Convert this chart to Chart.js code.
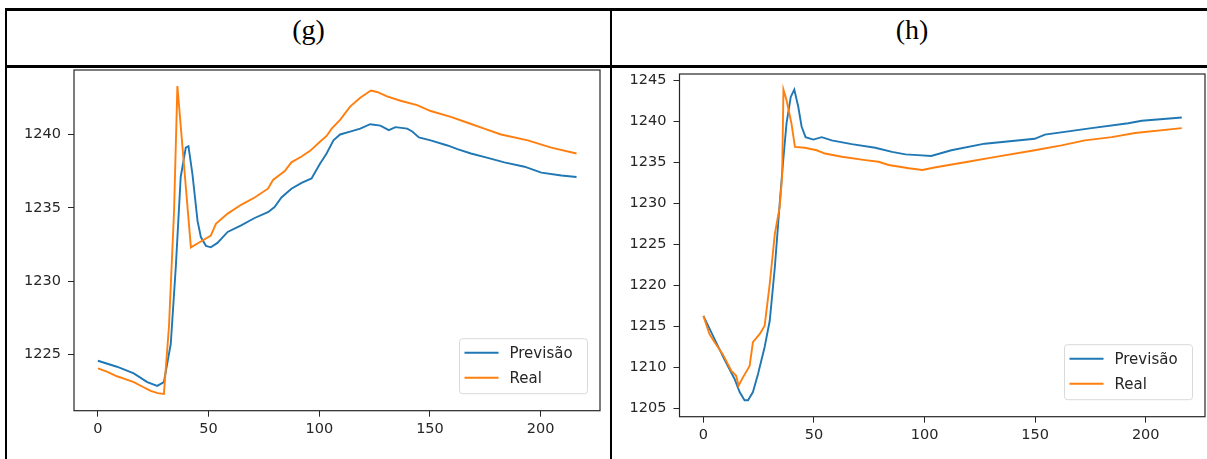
<!DOCTYPE html>
<html lang="pt">
<head>
    <meta charset="UTF-8">
    <title>Previsão x Real</title>
    <script src="https://cdn.jsdelivr.net/npm/chart.js"></script>
    <style>
        html, body { margin: 0; padding: 0; background: #fff; }
        body { width: 1207px; height: 459px; position: relative; overflow: hidden; }
        .linha { position: absolute; background: #000; }
        .titulo {
            position: absolute; top: 14px;
            font-family: "Liberation Serif", "Times New Roman", serif;
            font-size: 28px; text-align: center; line-height: normal; color: #000;
        }
        canvas { position: absolute; }
    </style>
</head>
<body>
    <!-- bordas da tabela -->
    <div class="linha" style="left:5px; top:8px; width:1215px; height:3px;"></div>
    <div class="linha" style="left:5px; top:65px; width:1215px; height:3px;"></div>
    <div class="linha" style="left:5px; top:8px; width:2px; height:460px;"></div>
    <div class="linha" style="left:610px; top:8px; width:2px; height:460px;"></div>

    <div class="titulo" style="left:7px; width:603px;">(g)</div>
    <div class="titulo" style="left:612px; width:600px;">(h)</div>

    <canvas id="graficoG" width="610" height="409" style="left:0; top:50px;"></canvas>
    <canvas id="graficoH" width="594" height="409" style="left:613px; top:50px;"></canvas>

<script>
    // Dados (g)
    const gPrevX = [0, 8.6, 16.2, 22.3, 26.8, 29.8, 32.9, 35.2, 37.4, 39.7, 40.9, 42.7, 45, 46.5, 48.8, 51, 54, 58.6, 64.7, 70.8, 76.8, 79.8, 82.9, 87.4, 92, 96.5, 100.3, 103.3, 106.4, 109.4, 113.9, 118.5, 123, 127.6, 131.4, 134.4, 139.7, 142, 145, 150.3, 157.9, 162.4, 168.5, 176.1, 183.6, 192.7, 200.3, 209.4, 216.2];
    const gPrevY = [1224.56, 1224.15, 1223.7, 1223.1, 1222.84, 1223.1, 1225.7, 1231.0, 1237.1, 1239.1, 1239.2, 1237.3, 1234.1, 1233.0, 1232.4, 1232.3, 1232.6, 1233.35, 1233.8, 1234.3, 1234.7, 1235.05, 1235.7, 1236.3, 1236.7, 1237.0, 1238.0, 1238.7, 1239.6, 1240.0, 1240.2, 1240.4, 1240.7, 1240.6, 1240.3, 1240.5, 1240.4, 1240.2, 1239.8, 1239.6, 1239.25, 1239.0, 1238.7, 1238.4, 1238.1, 1237.8, 1237.4, 1237.2, 1237.1];
    const gRealX = [0, 4.3, 8.6, 12.4, 16.2, 20, 23.8, 27, 29.8, 32.1, 34.4, 35.9, 42, 46.5, 51, 53.3, 58.6, 64.7, 70.8, 76.8, 79.1, 84.4, 87.4, 92, 96, 100.3, 103.3, 105.6, 109.4, 113.9, 118.5, 123.3, 126.1, 130.6, 136.7, 144.2, 150.3, 159.4, 167, 174.5, 182.1, 194.2, 204.8, 216.2];
    const gRealY = [1224.04, 1223.8, 1223.5, 1223.3, 1223.1, 1222.8, 1222.5, 1222.35, 1222.3, 1226.9, 1234.8, 1243.3, 1232.3, 1232.7, 1233.1, 1233.9, 1234.6, 1235.2, 1235.7, 1236.3, 1236.9, 1237.5, 1238.1, 1238.5, 1238.9, 1239.5, 1239.9, 1240.4, 1241.0, 1241.9, 1242.5, 1243.0, 1242.9, 1242.6, 1242.3, 1242.0, 1241.6, 1241.2, 1240.8, 1240.4, 1240.0, 1239.6, 1239.1, 1238.7];
    const gTicksX = [0, 50, 100, 150, 200];
    const gTicksY = [1225, 1230, 1235, 1240];

    // Dados (h)
    const hPrevX = [0, 5, 9.5, 14.1, 16.4, 18.6, 20.2, 22.4, 24.7, 27.7, 30, 32.3, 34.5, 36.1, 37.6, 39.5, 41.1, 42.9, 44.4, 46.2, 49.7, 53.5, 58, 67.1, 77.7, 85.3, 91.4, 97, 103, 112.1, 127.2, 149.8, 154.4, 165, 175.5, 192.1, 198.2, 216.3];
    const hPrevY = [1216.3, 1213.5, 1211.0, 1208.6, 1207.0, 1206.0, 1206.0, 1207.0, 1209.2, 1212.5, 1215.7, 1222.2, 1230.0, 1235.3, 1239.8, 1243.0, 1243.9, 1241.8, 1239.4, 1238.1, 1237.8, 1238.1, 1237.7, 1237.25, 1236.8, 1236.3, 1236.0, 1235.9, 1235.8, 1236.5, 1237.3, 1237.9, 1238.4, 1238.8, 1239.2, 1239.8, 1240.1, 1240.5];
    const hRealX = [0, 2.7, 5, 8.8, 12.6, 14.8, 15.9, 17.9, 20.9, 22.4, 25.5, 27.7, 30, 32.3, 34.5, 35.6, 36.2, 37.6, 39.8, 41.4, 45.9, 51.2, 55, 62.6, 73.2, 79.2, 83.8, 92.9, 99, 104.5, 119.6, 130.2, 149.8, 161.9, 172.5, 184.6, 195.2, 216.3];
    const hRealY = [1216.3, 1214.1, 1213.1, 1211.6, 1209.6, 1209.0, 1207.8, 1208.8, 1210.2, 1213.1, 1214.1, 1215.1, 1220.2, 1226.3, 1229.6, 1233.3, 1243.9, 1242.6, 1239.8, 1236.9, 1236.8, 1236.5, 1236.1, 1235.7, 1235.3, 1235.1, 1234.7, 1234.3, 1234.1, 1234.4, 1235.1, 1235.6, 1236.5, 1237.1, 1237.7, 1238.1, 1238.6, 1239.2];
    const hTicksX = [0, 50, 100, 150, 200];
    const hTicksY = [1205, 1210, 1215, 1220, 1225, 1230, 1235, 1240, 1245];

    const series = ['Previsão', 'Real'];
    const cores = ['#1f77b4', '#ff7f0e'];
    const corTexto = '#262626';

    Chart.defaults.font.family = '"DejaVu Sans", sans-serif';
    Chart.defaults.font.size = 14.5;
    Chart.defaults.color = corTexto;

    function pares(xs, ys) {
        return xs.map((x, i) => ({ x: x, y: ys[i] }));
    }

    // moldura dos eixos + legenda no canto inferior direito (estilo matplotlib)
    const molduraLegenda = {
        id: 'molduraLegenda',
        afterDraw(chart) {
            const ctx = chart.ctx;
            const a = chart.chartArea;
            ctx.save();
            ctx.strokeStyle = corTexto;
            ctx.lineWidth = 1.2;
            ctx.strokeRect(a.left, a.top, a.right - a.left, a.bottom - a.top);

            const w = 128, h = 55;
            const x0 = a.right - 12.5 - w;
            const y0 = a.bottom - 17 - h;
            ctx.beginPath();
            if (ctx.roundRect) ctx.roundRect(x0, y0, w, h, 3); else ctx.rect(x0, y0, w, h);
            ctx.fillStyle = 'rgba(255,255,255,0.9)';
            ctx.fill();
            ctx.strokeStyle = '#d9d9d9';
            ctx.lineWidth = 1;
            ctx.stroke();

            chart.data.datasets.forEach((ds, i) => {
                const y = y0 + 14 + i * 25;
                ctx.beginPath();
                ctx.moveTo(x0 + 5, y);
                ctx.lineTo(x0 + 39, y);
                ctx.strokeStyle = ds.borderColor;
                ctx.lineWidth = 2;
                ctx.stroke();
                ctx.fillStyle = corTexto;
                ctx.font = '15px "DejaVu Sans", sans-serif';
                ctx.textBaseline = 'middle';
                ctx.textAlign = 'left';
                ctx.fillText(ds.label, x0 + 50, y + 1);
            });
            ctx.restore();
        }
    };

    function criarGrafico(id, prev, real, ticksX, ticksY, limY, caixa) {
        return new Chart(document.getElementById(id), {
            type: 'line',
            data: {
                datasets: [
                    { label: series[0], data: prev, borderColor: cores[0], order: 1 },
                    { label: series[1], data: real, borderColor: cores[1], order: 0 }
                ]
            },
            options: {
                responsive: false,
                animation: false,
                devicePixelRatio: 1,
                elements: {
                    line: { borderWidth: 1.9, tension: 0, fill: false },
                    point: { radius: 0 }
                },
                layout: { padding: { top: caixa.top, right: caixa.right, left: 0, bottom: 0 } },
                plugins: { legend: { display: false }, tooltip: { enabled: false } },
                scales: {
                    x: {
                        type: 'linear',
                        min: -10.8, max: 226.8,
                        afterBuildTicks: s => { s.ticks = ticksX.map(v => ({ value: v })); },
                        afterFit: s => { s.height = caixa.bottom; },
                        grid: { drawOnChartArea: false, drawTicks: true, tickLength: 6, color: corTexto },
                        border: { display: false },
                        ticks: { padding: 4, maxRotation: 0, callback: v => String(v) }
                    },
                    y: {
                        type: 'linear',
                        min: limY[0], max: limY[1],
                        afterBuildTicks: s => { s.ticks = ticksY.map(v => ({ value: v })); },
                        afterFit: s => { s.width = caixa.left; },
                        grid: { drawOnChartArea: false, drawTicks: true, tickLength: 6, color: corTexto },
                        border: { display: false },
                        ticks: { padding: 7, callback: v => String(v) }
                    }
                }
            },
            plugins: [molduraLegenda]
        });
    }

    criarGrafico('graficoG', pares(gPrevX, gPrevY), pares(gRealX, gRealY), gTicksX, gTicksY,
        [1221.15, 1244.4], { left: 74, top: 20, right: 10, bottom: 48.3 });
    criarGrafico('graficoH', pares(hPrevX, hPrevY), pares(hRealX, hRealY), hTicksX, hTicksY,
        [1204.0, 1245.8], { left: 66.5, top: 24, right: 2, bottom: 42.3 });
</script>
</body>
</html>
